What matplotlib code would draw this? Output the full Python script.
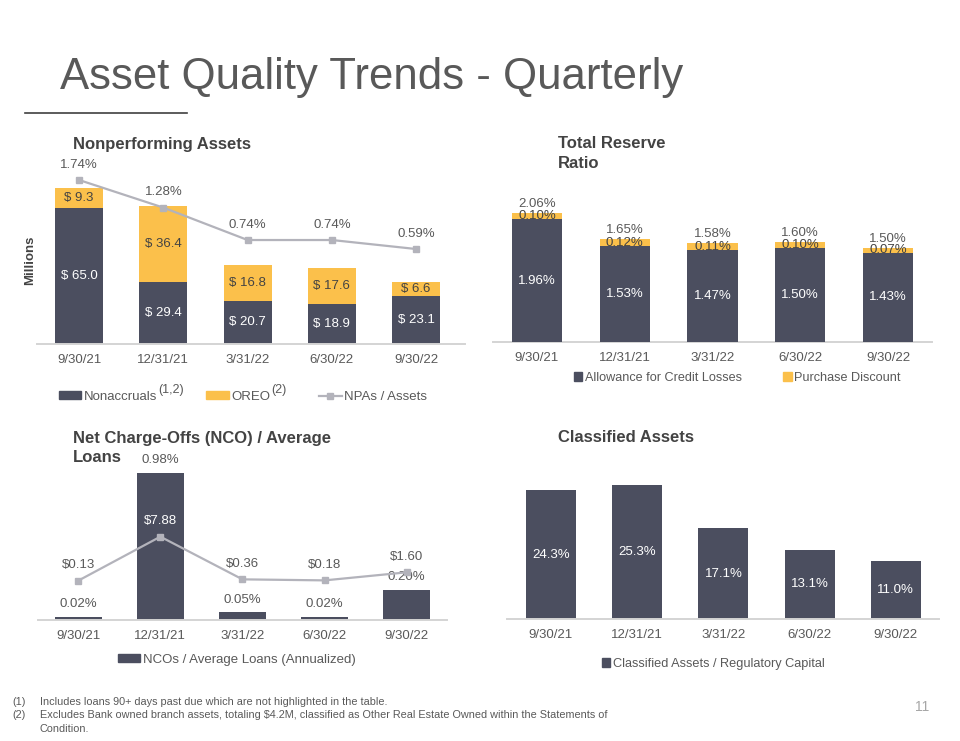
import numpy as np
import matplotlib
matplotlib.use("Agg")
import matplotlib.pyplot as plt
from matplotlib.patches import Patch
from matplotlib.lines import Line2D

W, H = 960, 741
DARK = "#4b4e5f"
GOLD = "#fbc04b"
LINE = "#b3b3bb"
TXT = "#595959"
HEAD = "#434343"

plt.rcParams['font.family'] = ['Liberation Sans', 'DejaVu Sans']

quarters = ["9/30/21", "12/31/21", "3/31/22", "6/30/22", "9/30/22"]
nonaccruals = [65.0, 29.4, 20.7, 18.9, 23.1]
oreo = [9.3, 36.4, 16.8, 17.6, 6.6]
npa_pct = [1.74, 1.28, 0.74, 0.74, 0.59]
allowance = [1.96, 1.53, 1.47, 1.50, 1.43]
discount = [0.10, 0.12, 0.11, 0.10, 0.07]
reserve_total = [2.06, 1.65, 1.58, 1.60, 1.50]
nco_pct = [0.02, 0.98, 0.05, 0.02, 0.20]
nco_dollars = [0.13, 7.88, 0.36, 0.18, 1.60]
classified = [24.3, 25.3, 17.1, 13.1, 11.0]

footnote_nums = ["(1)", "(2)", ""]
footnote_lines = [
    "Includes loans 90+ days past due which are not highlighted in the table.",
    "Excludes Bank owned branch assets, totaling $4.2M, classified as Other Real Estate Owned within the Statements of",
    "Condition.",
]

fig = plt.figure(figsize=(9.6, 7.41), dpi=100)
x = np.arange(len(quarters))


def px_axes(x0, x1, ytop, ybot):
    # axes placed by pixel box (top-left origin)
    return fig.add_axes([x0 / W, 1 - ybot / H, (x1 - x0) / W, (ybot - ytop) / H])


def style(ax, xlim, ylim):
    for s in ["left", "right", "top"]:
        ax.spines[s].set_visible(False)
    ax.spines["bottom"].set_color("#d4d4d4")
    ax.spines["bottom"].set_linewidth(1.4)
    ax.set_xticks(x)
    ax.set_xticklabels(quarters, color=TXT, fontsize=9.5)
    ax.tick_params(axis="x", length=0, pad=7)
    ax.set_yticks([])
    ax.set_xlim(*xlim)
    ax.set_ylim(*ylim)
    ax.patch.set_visible(False)


def twin(ax, ylim):
    axb = ax.twinx()
    for s in axb.spines.values():
        s.set_visible(False)
    axb.set_yticks([])
    axb.set_ylim(*ylim)
    return axb


def fig_legend(handles, labels, left, ymid, hl, hh, colsp, fs=9.5):
    return fig.legend(handles, labels, loc="center left",
                      bbox_to_anchor=(left / W, 1 - ymid / H), ncol=len(handles),
                      frameon=False, fontsize=fs, handlelength=hl, handleheight=hh,
                      handletextpad=0.2, columnspacing=colsp, borderpad=0,
                      borderaxespad=0, labelcolor=TXT)


# ---- Nonperforming Assets
ax1 = px_axes(37, 465, 170, 344)
style(ax1, (-0.5, 4.58), (0, 83.05))
ax1.bar(x, nonaccruals, 0.57, color=DARK)
ax1.bar(x, oreo, 0.57, bottom=nonaccruals, color=GOLD)
for i in x:
    ax1.text(i, nonaccruals[i] / 2, f"$ {nonaccruals[i]:.1f}", ha="center", va="center",
             color="white", fontsize=9.5)
    ax1.text(i, nonaccruals[i] + oreo[i] / 2, f"$ {oreo[i]:.1f}", ha="center", va="center",
             color=HEAD, fontsize=9.5)
ax1b = twin(ax1, (-0.993, 1.907))
ax1b.plot(x, npa_pct, color=LINE, lw=1.6, marker="s", ms=5)
for i in x:
    ax1b.annotate(f"{npa_pct[i]:.2f}%", (i, npa_pct[i]), xytext=(0, 11),
                  textcoords="offset points", ha="center", va="center", color=TXT, fontsize=9.5)

leg1 = fig_legend([Patch(color=DARK), Patch(color=GOLD),
                   Line2D([], [], color=LINE, lw=1.6, marker="s", ms=5)],
                  ["Nonaccruals", "OREO", "NPAs / Assets"], 59, 397, 1.7, 0.55, 3.7)

fig.text(30 / W, 1 - 260 / H, "Millions", rotation=90, ha="center", va="center",
         fontsize=9.5, weight="bold", color=HEAD)

# ---- Total Reserve Ratio
ax2 = px_axes(493, 932, 190, 342.3)
style(ax2, (-0.5, 4.5), (0, 2.43))
ax2.bar(x, allowance, 0.57, color=DARK, zorder=3)
ax2.bar(x, discount, 0.57, bottom=allowance, color=GOLD, zorder=1)
for i in x:
    ax2.text(i, allowance[i] / 2, f"{allowance[i]:.2f}%", ha="center", va="center",
             color="white", fontsize=9.5, zorder=4)
    ax2.text(i, allowance[i] + discount[i] / 2, f"{discount[i]:.2f}%", ha="center",
             va="center", color=HEAD, fontsize=9.5, zorder=2)
    ax2.annotate(f"{reserve_total[i]:.2f}%", (i, reserve_total[i]), xytext=(0, 6.5),
                 textcoords="offset points", ha="center", va="center", color=TXT,
                 fontsize=9.5, zorder=4)
fig_legend([Patch(color=DARK), Patch(color=GOLD)],
           ["Allowance for Credit Losses", "Purchase Discount"], 574, 378, 0.65, 0.65, 3.3,
           fs=9.1)

# ---- Net Charge-Offs
ax3 = px_axes(38, 447, 450, 620)
style(ax3, (-0.49, 4.49), (0, 1.131))
ax3.bar(x, nco_pct, 0.57, color=DARK)
for i in x:
    ax3.annotate(f"{nco_pct[i]:.2f}%", (i, nco_pct[i]), xytext=(0, 9),
                 textcoords="offset points", ha="center", va="center", color=TXT, fontsize=9.5)
ax3b = twin(ax3, (-6.8, 23.15))
ax3b.plot(x, nco_dollars, color=LINE, lw=1.6, marker="s", ms=5)
for i in x:
    lab_y = ax3b.transData.transform((i, nco_dollars[i]))[1] + 11 * 100 / 72
    bar_y = ax3.transData.transform((i, nco_pct[i]))[1]
    col = "white" if lab_y < bar_y else TXT
    ax3b.annotate(f"${nco_dollars[i]:.2f}", (i, nco_dollars[i]), xytext=(0, 11),
                  textcoords="offset points", ha="center", va="center", color=col, fontsize=9.5)
fig_legend([Patch(color=DARK)], ["NCOs / Average Loans (Annualized)"], 118, 660, 1.7, 0.55, 1)

# ---- Classified Assets
ax4 = px_axes(507, 939, 470, 619.3)
style(ax4, (-0.51, 4.5), (0, 28.06))
ax4.bar(x, classified, 0.58, color=DARK)
for i in x:
    ax4.text(i, classified[i] / 2, f"{classified[i]:.1f}%", ha="center", va="center",
             color="white", fontsize=9.5)
fig_legend([Patch(color=DARK)], ["Classified Assets / Regulatory Capital"], 602, 664,
           0.65, 0.65, 1, fs=9.15)

# ---- headings
fig.text(60 / W, 1 - 78 / H, "Asset Quality Trends - Quarterly", fontsize=31.5,
         color="#595959", va="center")
fig.add_artist(Line2D([25 / W, 187 / W], [1 - 113 / H] * 2, color="#3f3f3f", lw=1.2))
for txt, px, py in [("Nonperforming Assets", 72.7, 144), ("Total Reserve", 557.7, 144),
                    ("Ratio", 557.7, 163.3), ("Net Charge-Offs (NCO) / Average", 72.7, 438),
                    ("Loans", 72.7, 458), ("Classified Assets", 557.7, 438)]:
    fig.text(px / W, 1 - py / H, txt, fontsize=12, weight="bold", color=HEAD, va="center")

# superscripts after legend entries
fig.canvas.draw()
rend = fig.canvas.get_renderer()
for t, sup in zip(leg1.get_texts()[:2], ["(1,2)", "(2)"]):
    bb = t.get_window_extent(rend)
    fig.text((bb.x1 + 1) / W, (bb.y1 + 1) / H, sup, fontsize=9, color=TXT, va="center")

# ---- footnotes
for k, (num, body) in enumerate(zip(footnote_nums, footnote_lines)):
    fy = 702 + 13.5 * k
    fig.text(12 / W, 1 - fy / H, num, fontsize=7.8, color=TXT, va="center")
    fig.text(40 / W, 1 - fy / H, body, fontsize=7.8, color=TXT, va="center")
fig.text(922 / W, 1 - 707 / H, "11", fontsize=10, color="#a6a6a6", ha="center", va="center")

fig.savefig("out.png", dpi=100)
